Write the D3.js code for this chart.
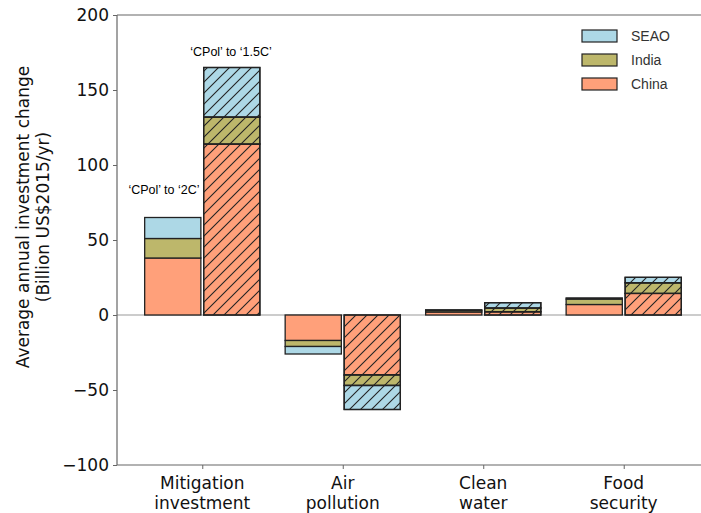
<!DOCTYPE html>
<html lang="en">
<head>
  <meta charset="UTF-8">
  <title>Average annual investment change</title>
  <script src="https://d3js.org/d3.v7.min.js"></script>
  <style>
    body { margin: 0; background: #fff; }
    svg { display: block; font-family: "DejaVu Sans", sans-serif; }
  </style>
</head>
<body>
<script>
const categories = [["Mitigation", "investment"], ["Air", "pollution"], ["Clean", "water"], ["Food", "security"]];
const regions = ["China", "India", "SEAO"];
const regionColors = ["#FFA07A", "#BDB76B", "#ADD8E6"];
const legendOrder = ["SEAO", "India", "China"];

// 'CPol' to '2C' (plain bars)
const china2C = [38, -17, 2, 7];
const india2C = [13, -4, 1, 3.6];
const seao2C = [14, -5, 0.5, 0.8];

// 'CPol' to '1.5C' (hatched bars)
const china15C = [114, -40, 2.2, 14.4];
const india15C = [18, -7, 2.5, 7.1];
const seao15C = [33, -16, 3.5, 3.6];

const yTicks = [-100, -50, 0, 50, 100, 150, 200];

const W = 701, H = 513;
const svg = d3.select("body").append("svg").attr("width", W).attr("height", H);

const x = d3.scaleLinear().domain([-0.607, 3.607]).range([117, 709]);
const y = d3.scaleLinear().domain([-100, 200]).range([465, 15]);

const defs = svg.append("defs");
const pat = defs.append("pattern")
  .attr("id", "hatch")
  .attr("patternUnits", "userSpaceOnUse")
  .attr("width", 11).attr("height", 11);
pat.append("path")
  .attr("d", "M0,11 L11,0 M-2.75,2.75 L2.75,-2.75 M8.25,13.75 L13.75,8.25")
  .attr("stroke", "#222").attr("stroke-width", 1.1);

// zero line
svg.append("line")
  .attr("x1", x.range()[0]).attr("x2", x.range()[1])
  .attr("y1", y(0)).attr("y2", y(0))
  .attr("stroke", "#999").attr("stroke-width", 1);

function stackBars(series, offset, hatched) {
  categories.forEach((c, i) => {
    let pos = 0, neg = 0;
    series.forEach((vals, r) => {
      const v = vals[i];
      let y0, y1;
      if (v >= 0) { y0 = pos; y1 = pos + v; pos = y1; }
      else { y0 = neg; y1 = neg + v; neg = y1; }
      const bx = x(i + offset - 0.2), bw = x(i + offset + 0.2) - bx;
      const top = y(Math.max(y0, y1)), h = Math.abs(y(y0) - y(y1));
      svg.append("rect")
        .attr("x", bx).attr("y", top).attr("width", bw).attr("height", h)
        .attr("fill", regionColors[r])
        .attr("stroke", "#222").attr("stroke-width", 1.3);
      if (hatched) {
        svg.append("rect")
          .attr("x", bx).attr("y", top).attr("width", bw).attr("height", h)
          .attr("fill", "url(#hatch)")
          .attr("stroke", "#222").attr("stroke-width", 1.3);
      }
    });
  });
}

stackBars([china2C, india2C, seao2C], -0.21, false);
stackBars([china15C, india15C, seao15C], 0.21, true);

// spines
const spine = svg.append("g").attr("stroke", "#666").attr("stroke-width", 1.2).attr("fill", "none");
spine.append("line").attr("x1", 117).attr("x2", 117).attr("y1", 15).attr("y2", 465);
spine.append("line").attr("x1", 117).attr("x2", 709).attr("y1", 15).attr("y2", 15);
spine.append("line").attr("x1", 117).attr("x2", 709).attr("y1", 465).attr("y2", 465);
spine.append("line").attr("x1", 709).attr("x2", 709).attr("y1", 15).attr("y2", 465);

// y axis
const yAxis = svg.append("g").attr("transform", "translate(117,0)")
  .call(d3.axisLeft(y).tickValues(yTicks).tickSize(4).tickPadding(4)
    .tickFormat(d => d < 0 ? "\u2212" + Math.abs(d) : d));
yAxis.select(".domain").remove();
yAxis.selectAll(".tick line").attr("stroke", "#666");
yAxis.selectAll(".tick text").attr("font-size", 17).attr("fill", "#111")
  .attr("font-family", "DejaVu Sans, sans-serif");

// x axis
const xAxis = svg.append("g").attr("transform", "translate(0,465)")
  .call(d3.axisBottom(x).tickValues([0, 1, 2, 3]).tickSize(4).tickFormat(""));
xAxis.select(".domain").remove();
xAxis.selectAll(".tick line").attr("stroke", "#666");
categories.forEach((c, i) => {
  const t = svg.append("text").attr("x", x(i)).attr("y", 489)
    .attr("text-anchor", "middle").attr("font-size", 17).attr("fill", "#111");
  t.append("tspan").attr("x", x(i)).attr("dy", 0).text(c[0]);
  t.append("tspan").attr("x", x(i)).attr("dy", 20).text(c[1]);
});

// y label
const yl = svg.append("text").attr("transform", "translate(23,217) rotate(-90)")
  .attr("text-anchor", "middle").attr("font-size", 17).attr("fill", "#111");
yl.append("tspan").attr("x", 0).attr("dy", 6).text("Average annual investment change");
yl.append("tspan").attr("x", 0).attr("dy", 20).text("(Billion US$2015/yr)");

// annotations
svg.append("text").attr("x", 231).attr("y", 56).attr("text-anchor", "middle")
  .attr("font-family", "Liberation Sans, Arial, sans-serif").attr("font-size", 12.5)
  .text("\u2018CPol\u2019 to \u20181.5C\u2019");
svg.append("text").attr("x", 164).attr("y", 194).attr("text-anchor", "middle")
  .attr("font-family", "Liberation Sans, Arial, sans-serif").attr("font-size", 12.5)
  .text("\u2018CPol\u2019 to \u20182C\u2019");

// legend
const leg = svg.append("g");
legendOrder.forEach((name, k) => {
  const r = regions.indexOf(name);
  const cy = 36 + k * 24;
  leg.append("rect").attr("x", 582).attr("y", cy - 6).attr("width", 35).attr("height", 12)
    .attr("fill", regionColors[r]).attr("stroke", "#222").attr("stroke-width", 1.2);
  leg.append("text").attr("x", 631).attr("y", cy + 5)
    .attr("font-family", "Liberation Sans, Arial, sans-serif").attr("font-size", 14)
    .attr("fill", "#333").text(name);
});
</script>
</body>
</html>
